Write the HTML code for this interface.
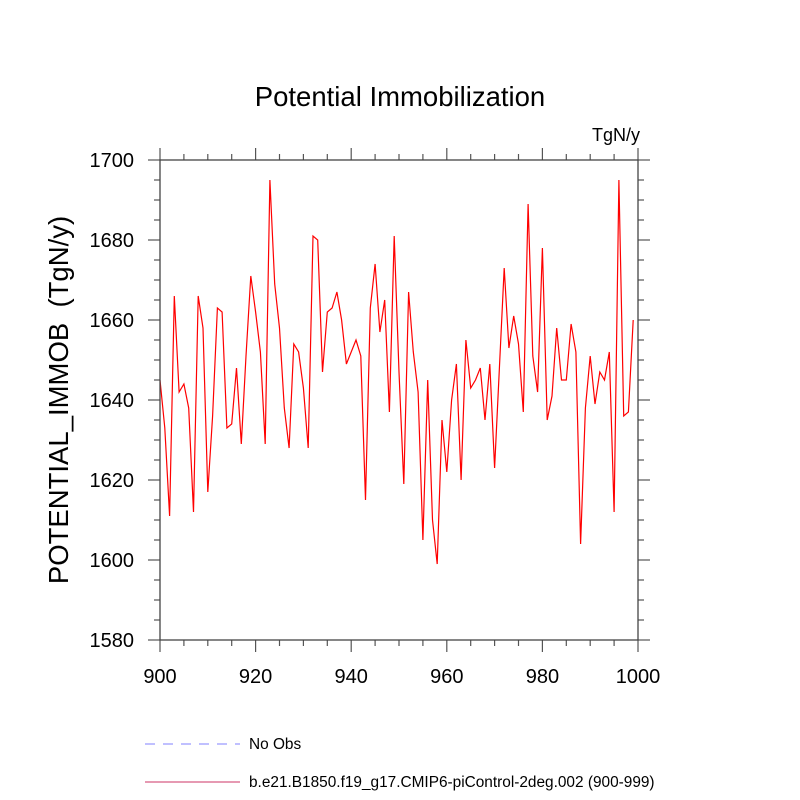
<!DOCTYPE html>
<html><head><meta charset="utf-8"><style>body{margin:0;background:#fff}svg{display:block;font-family:"Liberation Sans",sans-serif}</style></head>
<body>
<svg id="chart" width="800" height="800">
<text x="400" y="106" font-size="27.5" text-anchor="middle">Potential Immobilization</text>
<text x="640" y="141" font-size="18" text-anchor="end">TgN/y</text>
<text transform="translate(68,400) rotate(-90)" font-size="27.5" text-anchor="middle" xml:space="preserve">POTENTIAL_IMMOB  (TgN/y)</text>
<g id="axes"></g>
<polyline id="series" fill="none" stroke="#ff0000" stroke-width="1.2"/>
<rect x="160" y="160" width="478" height="480" fill="none" stroke="#444" stroke-width="1.3"/>
<line x1="145" y1="744" x2="240" y2="744" stroke="#8080ff" stroke-width="1" stroke-dasharray="10,8"/>
<text x="249" y="749" font-size="15.4">No Obs</text>
<line x1="145" y1="782" x2="240" y2="782" stroke="#cc3366" stroke-width="1"/>
<text x="249" y="787" font-size="15.4">b.e21.B1850.f19_g17.CMIP6-piControl-2deg.002 (900-999)</text>
</svg>
<script>
const startYear = 900;
const values = [1645,1633,1611,1666,1642,1644,1638,1612,1666,1658,1617,1636,1663,1662,1633,1634,1648,1629,1651,1671,1662,1652,1629,1695,1669,1658,1638,1628,1654,1652,1643,1628,1681,1680,1647,1662,1663,1667,1660,1649,1652,1655,1651,1615,1663,1674,1657,1665,1637,1681,1647,1619,1667,1652,1642,1605,1645,1610,1599,1635,1622,1640,1649,1620,1655,1643,1645,1648,1635,1649,1623,1648,1673,1653,1661,1654,1637,1689,1651,1642,1678,1635,1641,1658,1645,1645,1659,1652,1604,1638,1651,1639,1647,1645,1652,1612,1695,1636,1637,1660];
const xTicks = [900,920,940,960,980,1000];
const yTicks = [1580,1600,1620,1640,1660,1680,1700];
const X0=160,X1=638,Y0=640,Y1=160;
const xs = v => X0 + (v-900)/100*(X1-X0);
const ys = v => Y0 - (v-1580)/120*(Y0-Y1);
const ns="http://www.w3.org/2000/svg";
const g=document.getElementById('axes');
function ln(x1,y1,x2,y2,name){const l=document.createElementNS(ns,'line');l.setAttribute('x1',x1);l.setAttribute('y1',y1);l.setAttribute('x2',x2);l.setAttribute('y2',y2);l.setAttribute('stroke','#555');l.setAttribute('stroke-width','1.2');


g.appendChild(l);}
function tx(x,y,s,anchor,name){const t=document.createElementNS(ns,'text');t.setAttribute('x',x);t.setAttribute('y',y);t.setAttribute('font-size','20');t.setAttribute('text-anchor',anchor);t.textContent=s;


g.appendChild(t);}
for(let v=900;v<=1000;v+=5){const x=xs(v);const L=(v%20===0)?12:6;ln(x,Y0,x,Y0+L,'x-tick');ln(x,Y1,x,Y1-L,'x-tick-top');}
for(let v=1580;v<=1700;v+=5){const y=ys(v);const L=(v%20===0)?12:6;ln(X0,y,X0-L,y,'y-tick');ln(X1,y,X1+L,y,'y-tick-right');}
xTicks.forEach(v=>tx(xs(v),683,String(v),'middle','x-tick-label'));
yTicks.forEach(v=>tx(134,ys(v)+7,String(v),'end','y-tick-label'));
document.getElementById('series').setAttribute('points',values.map((v,i)=>xs(startYear+i).toFixed(1)+','+ys(v).toFixed(1)).join(' '));
</script>
</body></html>
